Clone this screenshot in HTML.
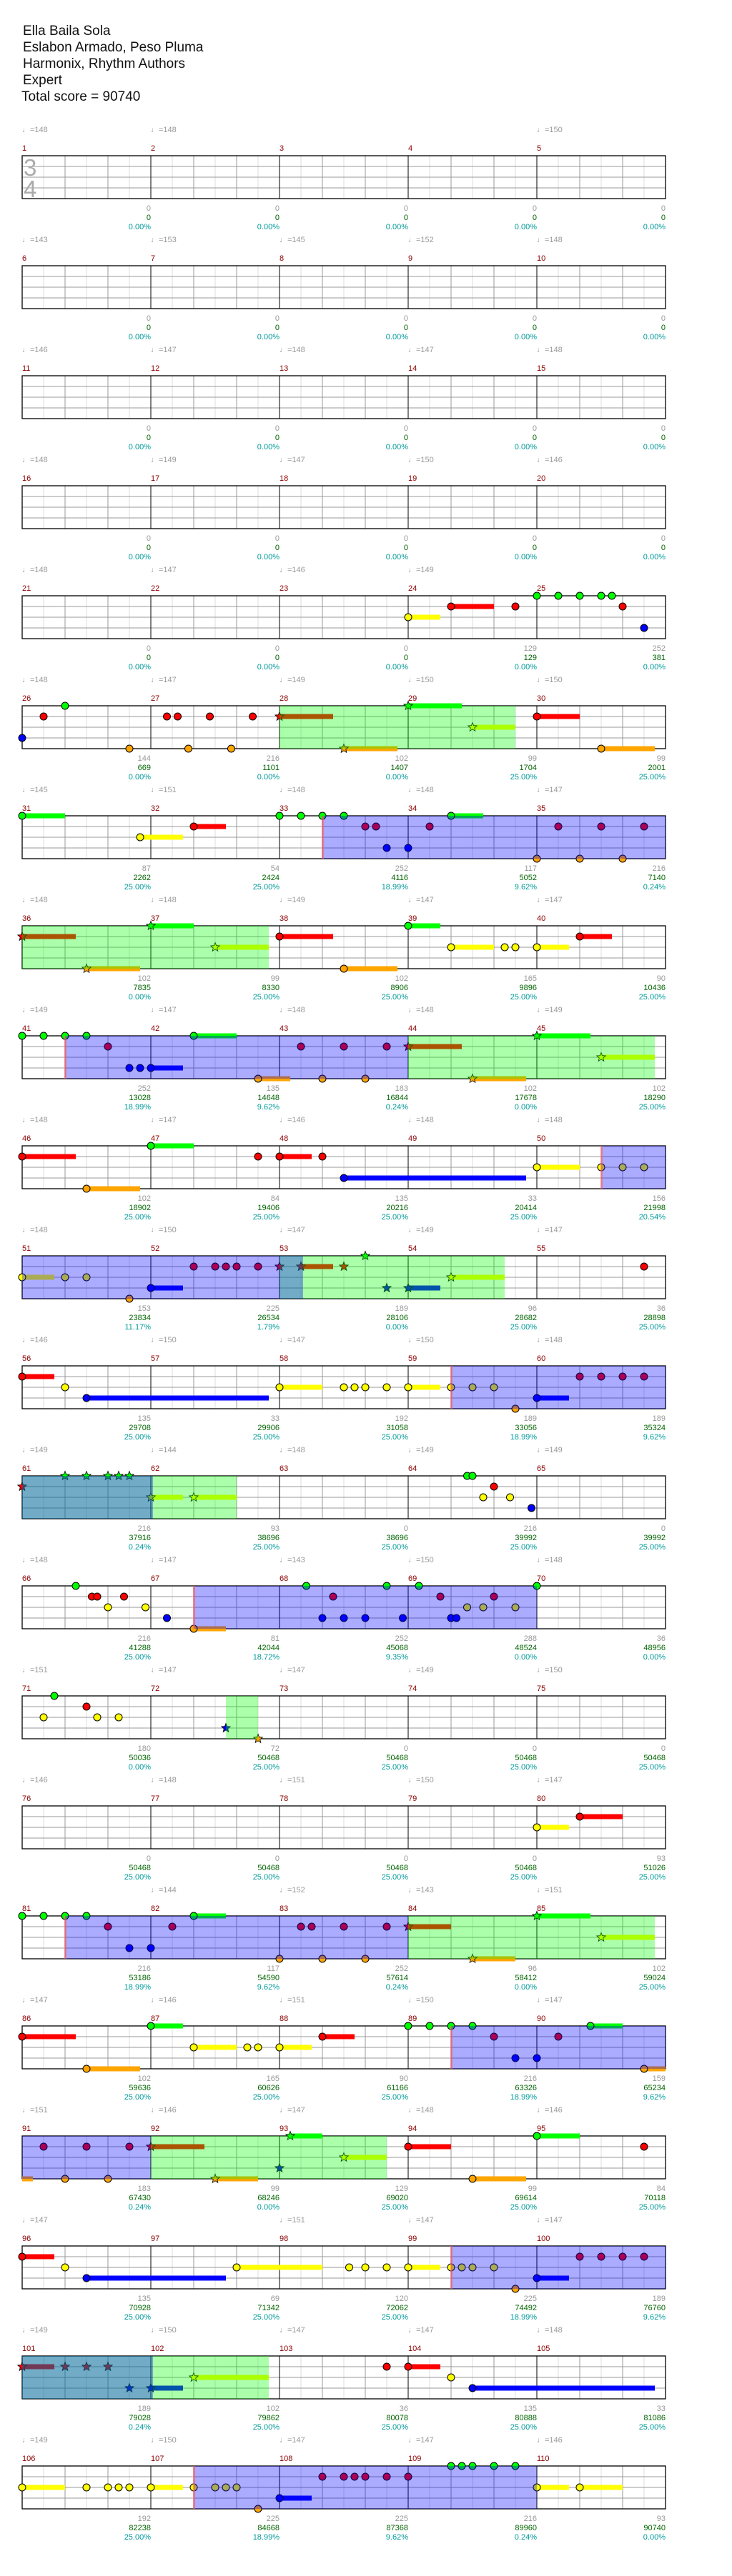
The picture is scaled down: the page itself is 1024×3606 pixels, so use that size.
<!DOCTYPE html>
<html><head><meta charset="utf-8"><style>
body{margin:0;background:#fff}
svg{display:block}
.h{font-family:"Liberation Sans","DejaVu Sans",sans-serif;font-size:19px;fill:#111}
text{font-family:"Liberation Sans","DejaVu Sans",sans-serif;font-size:11px}
.tp{fill:#999}
.n{fill:#8b0000}
.a,.b,.c{text-anchor:end}
.a{fill:#999}.b{fill:#006400}.c{fill:#009999}
.ts{font-size:33px;fill:#aaa}
</style></head><body>
<svg id="s" xmlns="http://www.w3.org/2000/svg" width="1024" height="3606" viewBox="0 0 1024 3606">
<rect width="1024" height="3606" fill="#fff"/>
<g id="grid"></g>
<g id="notes"></g>
<g id="regs"></g>
<text class="h" x="32" y="49">Ella Baila Sola</text>
<text class="h" x="32" y="72">Eslabon Armado, Peso Pluma</text>
<text class="h" x="32" y="95">Harmonix, Rhythm Authors</text>
<text class="h" x="32" y="118">Expert</text>
<text class="h" x="30" y="141">Total score = 90740</text>
<text class="ts" x="33" y="246">3</text>
<text class="ts" x="33" y="276">4</text>
<g transform="translate(31,218)"><text class="tp" y="-33">♩=148</text><text class="n" y="-7">1</text><text class="a" x="180" y="77">0</text><text class="b" x="180" y="90">0</text><text class="c" x="180" y="103">0.00%</text></g>
<g transform="translate(211,218)"><text class="tp" y="-33">♩=148</text><text class="n" y="-7">2</text><text class="a" x="180" y="77">0</text><text class="b" x="180" y="90">0</text><text class="c" x="180" y="103">0.00%</text></g>
<g transform="translate(391,218)"><text class="n" y="-7">3</text><text class="a" x="180" y="77">0</text><text class="b" x="180" y="90">0</text><text class="c" x="180" y="103">0.00%</text></g>
<g transform="translate(571,218)"><text class="n" y="-7">4</text><text class="a" x="180" y="77">0</text><text class="b" x="180" y="90">0</text><text class="c" x="180" y="103">0.00%</text></g>
<g transform="translate(751,218)"><text class="tp" y="-33">♩=150</text><text class="n" y="-7">5</text><text class="a" x="180" y="77">0</text><text class="b" x="180" y="90">0</text><text class="c" x="180" y="103">0.00%</text></g>
<g transform="translate(31,372)"><text class="tp" y="-33">♩=143</text><text class="n" y="-7">6</text><text class="a" x="180" y="77">0</text><text class="b" x="180" y="90">0</text><text class="c" x="180" y="103">0.00%</text></g>
<g transform="translate(211,372)"><text class="tp" y="-33">♩=153</text><text class="n" y="-7">7</text><text class="a" x="180" y="77">0</text><text class="b" x="180" y="90">0</text><text class="c" x="180" y="103">0.00%</text></g>
<g transform="translate(391,372)"><text class="tp" y="-33">♩=145</text><text class="n" y="-7">8</text><text class="a" x="180" y="77">0</text><text class="b" x="180" y="90">0</text><text class="c" x="180" y="103">0.00%</text></g>
<g transform="translate(571,372)"><text class="tp" y="-33">♩=152</text><text class="n" y="-7">9</text><text class="a" x="180" y="77">0</text><text class="b" x="180" y="90">0</text><text class="c" x="180" y="103">0.00%</text></g>
<g transform="translate(751,372)"><text class="tp" y="-33">♩=148</text><text class="n" y="-7">10</text><text class="a" x="180" y="77">0</text><text class="b" x="180" y="90">0</text><text class="c" x="180" y="103">0.00%</text></g>
<g transform="translate(31,526)"><text class="tp" y="-33">♩=146</text><text class="n" y="-7">11</text><text class="a" x="180" y="77">0</text><text class="b" x="180" y="90">0</text><text class="c" x="180" y="103">0.00%</text></g>
<g transform="translate(211,526)"><text class="tp" y="-33">♩=147</text><text class="n" y="-7">12</text><text class="a" x="180" y="77">0</text><text class="b" x="180" y="90">0</text><text class="c" x="180" y="103">0.00%</text></g>
<g transform="translate(391,526)"><text class="tp" y="-33">♩=148</text><text class="n" y="-7">13</text><text class="a" x="180" y="77">0</text><text class="b" x="180" y="90">0</text><text class="c" x="180" y="103">0.00%</text></g>
<g transform="translate(571,526)"><text class="tp" y="-33">♩=147</text><text class="n" y="-7">14</text><text class="a" x="180" y="77">0</text><text class="b" x="180" y="90">0</text><text class="c" x="180" y="103">0.00%</text></g>
<g transform="translate(751,526)"><text class="tp" y="-33">♩=148</text><text class="n" y="-7">15</text><text class="a" x="180" y="77">0</text><text class="b" x="180" y="90">0</text><text class="c" x="180" y="103">0.00%</text></g>
<g transform="translate(31,680)"><text class="tp" y="-33">♩=148</text><text class="n" y="-7">16</text><text class="a" x="180" y="77">0</text><text class="b" x="180" y="90">0</text><text class="c" x="180" y="103">0.00%</text></g>
<g transform="translate(211,680)"><text class="tp" y="-33">♩=149</text><text class="n" y="-7">17</text><text class="a" x="180" y="77">0</text><text class="b" x="180" y="90">0</text><text class="c" x="180" y="103">0.00%</text></g>
<g transform="translate(391,680)"><text class="tp" y="-33">♩=147</text><text class="n" y="-7">18</text><text class="a" x="180" y="77">0</text><text class="b" x="180" y="90">0</text><text class="c" x="180" y="103">0.00%</text></g>
<g transform="translate(571,680)"><text class="tp" y="-33">♩=150</text><text class="n" y="-7">19</text><text class="a" x="180" y="77">0</text><text class="b" x="180" y="90">0</text><text class="c" x="180" y="103">0.00%</text></g>
<g transform="translate(751,680)"><text class="tp" y="-33">♩=146</text><text class="n" y="-7">20</text><text class="a" x="180" y="77">0</text><text class="b" x="180" y="90">0</text><text class="c" x="180" y="103">0.00%</text></g>
<g transform="translate(31,834)"><text class="tp" y="-33">♩=148</text><text class="n" y="-7">21</text><text class="a" x="180" y="77">0</text><text class="b" x="180" y="90">0</text><text class="c" x="180" y="103">0.00%</text></g>
<g transform="translate(211,834)"><text class="tp" y="-33">♩=147</text><text class="n" y="-7">22</text><text class="a" x="180" y="77">0</text><text class="b" x="180" y="90">0</text><text class="c" x="180" y="103">0.00%</text></g>
<g transform="translate(391,834)"><text class="tp" y="-33">♩=146</text><text class="n" y="-7">23</text><text class="a" x="180" y="77">0</text><text class="b" x="180" y="90">0</text><text class="c" x="180" y="103">0.00%</text></g>
<g transform="translate(571,834)"><text class="tp" y="-33">♩=149</text><text class="n" y="-7">24</text><text class="a" x="180" y="77">129</text><text class="b" x="180" y="90">129</text><text class="c" x="180" y="103">0.00%</text></g>
<g transform="translate(751,834)"><text class="n" y="-7">25</text><text class="a" x="180" y="77">252</text><text class="b" x="180" y="90">381</text><text class="c" x="180" y="103">0.00%</text></g>
<g transform="translate(31,988)"><text class="tp" y="-33">♩=148</text><text class="n" y="-7">26</text><text class="a" x="180" y="77">144</text><text class="b" x="180" y="90">669</text><text class="c" x="180" y="103">0.00%</text></g>
<g transform="translate(211,988)"><text class="tp" y="-33">♩=147</text><text class="n" y="-7">27</text><text class="a" x="180" y="77">216</text><text class="b" x="180" y="90">1101</text><text class="c" x="180" y="103">0.00%</text></g>
<g transform="translate(391,988)"><text class="tp" y="-33">♩=149</text><text class="n" y="-7">28</text><text class="a" x="180" y="77">102</text><text class="b" x="180" y="90">1407</text><text class="c" x="180" y="103">0.00%</text></g>
<g transform="translate(571,988)"><text class="tp" y="-33">♩=150</text><text class="n" y="-7">29</text><text class="a" x="180" y="77">99</text><text class="b" x="180" y="90">1704</text><text class="c" x="180" y="103">25.00%</text></g>
<g transform="translate(751,988)"><text class="tp" y="-33">♩=150</text><text class="n" y="-7">30</text><text class="a" x="180" y="77">99</text><text class="b" x="180" y="90">2001</text><text class="c" x="180" y="103">25.00%</text></g>
<g transform="translate(31,1142)"><text class="tp" y="-33">♩=145</text><text class="n" y="-7">31</text><text class="a" x="180" y="77">87</text><text class="b" x="180" y="90">2262</text><text class="c" x="180" y="103">25.00%</text></g>
<g transform="translate(211,1142)"><text class="tp" y="-33">♩=151</text><text class="n" y="-7">32</text><text class="a" x="180" y="77">54</text><text class="b" x="180" y="90">2424</text><text class="c" x="180" y="103">25.00%</text></g>
<g transform="translate(391,1142)"><text class="tp" y="-33">♩=148</text><text class="n" y="-7">33</text><text class="a" x="180" y="77">252</text><text class="b" x="180" y="90">4116</text><text class="c" x="180" y="103">18.99%</text></g>
<g transform="translate(571,1142)"><text class="tp" y="-33">♩=148</text><text class="n" y="-7">34</text><text class="a" x="180" y="77">117</text><text class="b" x="180" y="90">5052</text><text class="c" x="180" y="103">9.62%</text></g>
<g transform="translate(751,1142)"><text class="tp" y="-33">♩=147</text><text class="n" y="-7">35</text><text class="a" x="180" y="77">216</text><text class="b" x="180" y="90">7140</text><text class="c" x="180" y="103">0.24%</text></g>
<g transform="translate(31,1296)"><text class="tp" y="-33">♩=148</text><text class="n" y="-7">36</text><text class="a" x="180" y="77">102</text><text class="b" x="180" y="90">7835</text><text class="c" x="180" y="103">0.00%</text></g>
<g transform="translate(211,1296)"><text class="tp" y="-33">♩=148</text><text class="n" y="-7">37</text><text class="a" x="180" y="77">99</text><text class="b" x="180" y="90">8330</text><text class="c" x="180" y="103">25.00%</text></g>
<g transform="translate(391,1296)"><text class="tp" y="-33">♩=149</text><text class="n" y="-7">38</text><text class="a" x="180" y="77">102</text><text class="b" x="180" y="90">8906</text><text class="c" x="180" y="103">25.00%</text></g>
<g transform="translate(571,1296)"><text class="tp" y="-33">♩=147</text><text class="n" y="-7">39</text><text class="a" x="180" y="77">165</text><text class="b" x="180" y="90">9896</text><text class="c" x="180" y="103">25.00%</text></g>
<g transform="translate(751,1296)"><text class="tp" y="-33">♩=147</text><text class="n" y="-7">40</text><text class="a" x="180" y="77">90</text><text class="b" x="180" y="90">10436</text><text class="c" x="180" y="103">25.00%</text></g>
<g transform="translate(31,1450)"><text class="tp" y="-33">♩=149</text><text class="n" y="-7">41</text><text class="a" x="180" y="77">252</text><text class="b" x="180" y="90">13028</text><text class="c" x="180" y="103">18.99%</text></g>
<g transform="translate(211,1450)"><text class="tp" y="-33">♩=147</text><text class="n" y="-7">42</text><text class="a" x="180" y="77">135</text><text class="b" x="180" y="90">14648</text><text class="c" x="180" y="103">9.62%</text></g>
<g transform="translate(391,1450)"><text class="tp" y="-33">♩=148</text><text class="n" y="-7">43</text><text class="a" x="180" y="77">183</text><text class="b" x="180" y="90">16844</text><text class="c" x="180" y="103">0.24%</text></g>
<g transform="translate(571,1450)"><text class="tp" y="-33">♩=148</text><text class="n" y="-7">44</text><text class="a" x="180" y="77">102</text><text class="b" x="180" y="90">17678</text><text class="c" x="180" y="103">0.00%</text></g>
<g transform="translate(751,1450)"><text class="tp" y="-33">♩=149</text><text class="n" y="-7">45</text><text class="a" x="180" y="77">102</text><text class="b" x="180" y="90">18290</text><text class="c" x="180" y="103">25.00%</text></g>
<g transform="translate(31,1604)"><text class="tp" y="-33">♩=148</text><text class="n" y="-7">46</text><text class="a" x="180" y="77">102</text><text class="b" x="180" y="90">18902</text><text class="c" x="180" y="103">25.00%</text></g>
<g transform="translate(211,1604)"><text class="tp" y="-33">♩=147</text><text class="n" y="-7">47</text><text class="a" x="180" y="77">84</text><text class="b" x="180" y="90">19406</text><text class="c" x="180" y="103">25.00%</text></g>
<g transform="translate(391,1604)"><text class="tp" y="-33">♩=146</text><text class="n" y="-7">48</text><text class="a" x="180" y="77">135</text><text class="b" x="180" y="90">20216</text><text class="c" x="180" y="103">25.00%</text></g>
<g transform="translate(571,1604)"><text class="tp" y="-33">♩=148</text><text class="n" y="-7">49</text><text class="a" x="180" y="77">33</text><text class="b" x="180" y="90">20414</text><text class="c" x="180" y="103">25.00%</text></g>
<g transform="translate(751,1604)"><text class="tp" y="-33">♩=148</text><text class="n" y="-7">50</text><text class="a" x="180" y="77">156</text><text class="b" x="180" y="90">21998</text><text class="c" x="180" y="103">20.54%</text></g>
<g transform="translate(31,1758)"><text class="tp" y="-33">♩=148</text><text class="n" y="-7">51</text><text class="a" x="180" y="77">153</text><text class="b" x="180" y="90">23834</text><text class="c" x="180" y="103">11.17%</text></g>
<g transform="translate(211,1758)"><text class="tp" y="-33">♩=150</text><text class="n" y="-7">52</text><text class="a" x="180" y="77">225</text><text class="b" x="180" y="90">26534</text><text class="c" x="180" y="103">1.79%</text></g>
<g transform="translate(391,1758)"><text class="tp" y="-33">♩=147</text><text class="n" y="-7">53</text><text class="a" x="180" y="77">189</text><text class="b" x="180" y="90">28106</text><text class="c" x="180" y="103">0.00%</text></g>
<g transform="translate(571,1758)"><text class="tp" y="-33">♩=149</text><text class="n" y="-7">54</text><text class="a" x="180" y="77">96</text><text class="b" x="180" y="90">28682</text><text class="c" x="180" y="103">25.00%</text></g>
<g transform="translate(751,1758)"><text class="tp" y="-33">♩=147</text><text class="n" y="-7">55</text><text class="a" x="180" y="77">36</text><text class="b" x="180" y="90">28898</text><text class="c" x="180" y="103">25.00%</text></g>
<g transform="translate(31,1912)"><text class="tp" y="-33">♩=146</text><text class="n" y="-7">56</text><text class="a" x="180" y="77">135</text><text class="b" x="180" y="90">29708</text><text class="c" x="180" y="103">25.00%</text></g>
<g transform="translate(211,1912)"><text class="tp" y="-33">♩=150</text><text class="n" y="-7">57</text><text class="a" x="180" y="77">33</text><text class="b" x="180" y="90">29906</text><text class="c" x="180" y="103">25.00%</text></g>
<g transform="translate(391,1912)"><text class="tp" y="-33">♩=147</text><text class="n" y="-7">58</text><text class="a" x="180" y="77">192</text><text class="b" x="180" y="90">31058</text><text class="c" x="180" y="103">25.00%</text></g>
<g transform="translate(571,1912)"><text class="tp" y="-33">♩=150</text><text class="n" y="-7">59</text><text class="a" x="180" y="77">189</text><text class="b" x="180" y="90">33056</text><text class="c" x="180" y="103">18.99%</text></g>
<g transform="translate(751,1912)"><text class="tp" y="-33">♩=148</text><text class="n" y="-7">60</text><text class="a" x="180" y="77">189</text><text class="b" x="180" y="90">35324</text><text class="c" x="180" y="103">9.62%</text></g>
<g transform="translate(31,2066)"><text class="tp" y="-33">♩=149</text><text class="n" y="-7">61</text><text class="a" x="180" y="77">216</text><text class="b" x="180" y="90">37916</text><text class="c" x="180" y="103">0.24%</text></g>
<g transform="translate(211,2066)"><text class="tp" y="-33">♩=144</text><text class="n" y="-7">62</text><text class="a" x="180" y="77">93</text><text class="b" x="180" y="90">38696</text><text class="c" x="180" y="103">25.00%</text></g>
<g transform="translate(391,2066)"><text class="tp" y="-33">♩=148</text><text class="n" y="-7">63</text><text class="a" x="180" y="77">0</text><text class="b" x="180" y="90">38696</text><text class="c" x="180" y="103">25.00%</text></g>
<g transform="translate(571,2066)"><text class="tp" y="-33">♩=149</text><text class="n" y="-7">64</text><text class="a" x="180" y="77">216</text><text class="b" x="180" y="90">39992</text><text class="c" x="180" y="103">25.00%</text></g>
<g transform="translate(751,2066)"><text class="tp" y="-33">♩=149</text><text class="n" y="-7">65</text><text class="a" x="180" y="77">0</text><text class="b" x="180" y="90">39992</text><text class="c" x="180" y="103">25.00%</text></g>
<g transform="translate(31,2220)"><text class="tp" y="-33">♩=148</text><text class="n" y="-7">66</text><text class="a" x="180" y="77">216</text><text class="b" x="180" y="90">41288</text><text class="c" x="180" y="103">25.00%</text></g>
<g transform="translate(211,2220)"><text class="tp" y="-33">♩=147</text><text class="n" y="-7">67</text><text class="a" x="180" y="77">81</text><text class="b" x="180" y="90">42044</text><text class="c" x="180" y="103">18.72%</text></g>
<g transform="translate(391,2220)"><text class="tp" y="-33">♩=143</text><text class="n" y="-7">68</text><text class="a" x="180" y="77">252</text><text class="b" x="180" y="90">45068</text><text class="c" x="180" y="103">9.35%</text></g>
<g transform="translate(571,2220)"><text class="tp" y="-33">♩=150</text><text class="n" y="-7">69</text><text class="a" x="180" y="77">288</text><text class="b" x="180" y="90">48524</text><text class="c" x="180" y="103">0.00%</text></g>
<g transform="translate(751,2220)"><text class="tp" y="-33">♩=148</text><text class="n" y="-7">70</text><text class="a" x="180" y="77">36</text><text class="b" x="180" y="90">48956</text><text class="c" x="180" y="103">0.00%</text></g>
<g transform="translate(31,2374)"><text class="tp" y="-33">♩=151</text><text class="n" y="-7">71</text><text class="a" x="180" y="77">180</text><text class="b" x="180" y="90">50036</text><text class="c" x="180" y="103">0.00%</text></g>
<g transform="translate(211,2374)"><text class="tp" y="-33">♩=147</text><text class="n" y="-7">72</text><text class="a" x="180" y="77">72</text><text class="b" x="180" y="90">50468</text><text class="c" x="180" y="103">25.00%</text></g>
<g transform="translate(391,2374)"><text class="tp" y="-33">♩=147</text><text class="n" y="-7">73</text><text class="a" x="180" y="77">0</text><text class="b" x="180" y="90">50468</text><text class="c" x="180" y="103">25.00%</text></g>
<g transform="translate(571,2374)"><text class="tp" y="-33">♩=149</text><text class="n" y="-7">74</text><text class="a" x="180" y="77">0</text><text class="b" x="180" y="90">50468</text><text class="c" x="180" y="103">25.00%</text></g>
<g transform="translate(751,2374)"><text class="tp" y="-33">♩=150</text><text class="n" y="-7">75</text><text class="a" x="180" y="77">0</text><text class="b" x="180" y="90">50468</text><text class="c" x="180" y="103">25.00%</text></g>
<g transform="translate(31,2528)"><text class="tp" y="-33">♩=146</text><text class="n" y="-7">76</text><text class="a" x="180" y="77">0</text><text class="b" x="180" y="90">50468</text><text class="c" x="180" y="103">25.00%</text></g>
<g transform="translate(211,2528)"><text class="tp" y="-33">♩=148</text><text class="n" y="-7">77</text><text class="a" x="180" y="77">0</text><text class="b" x="180" y="90">50468</text><text class="c" x="180" y="103">25.00%</text></g>
<g transform="translate(391,2528)"><text class="tp" y="-33">♩=151</text><text class="n" y="-7">78</text><text class="a" x="180" y="77">0</text><text class="b" x="180" y="90">50468</text><text class="c" x="180" y="103">25.00%</text></g>
<g transform="translate(571,2528)"><text class="tp" y="-33">♩=150</text><text class="n" y="-7">79</text><text class="a" x="180" y="77">0</text><text class="b" x="180" y="90">50468</text><text class="c" x="180" y="103">25.00%</text></g>
<g transform="translate(751,2528)"><text class="tp" y="-33">♩=147</text><text class="n" y="-7">80</text><text class="a" x="180" y="77">93</text><text class="b" x="180" y="90">51026</text><text class="c" x="180" y="103">25.00%</text></g>
<g transform="translate(31,2682)"><text class="n" y="-7">81</text><text class="a" x="180" y="77">216</text><text class="b" x="180" y="90">53186</text><text class="c" x="180" y="103">18.99%</text></g>
<g transform="translate(211,2682)"><text class="tp" y="-33">♩=144</text><text class="n" y="-7">82</text><text class="a" x="180" y="77">117</text><text class="b" x="180" y="90">54590</text><text class="c" x="180" y="103">9.62%</text></g>
<g transform="translate(391,2682)"><text class="tp" y="-33">♩=152</text><text class="n" y="-7">83</text><text class="a" x="180" y="77">252</text><text class="b" x="180" y="90">57614</text><text class="c" x="180" y="103">0.24%</text></g>
<g transform="translate(571,2682)"><text class="tp" y="-33">♩=143</text><text class="n" y="-7">84</text><text class="a" x="180" y="77">96</text><text class="b" x="180" y="90">58412</text><text class="c" x="180" y="103">0.00%</text></g>
<g transform="translate(751,2682)"><text class="tp" y="-33">♩=151</text><text class="n" y="-7">85</text><text class="a" x="180" y="77">102</text><text class="b" x="180" y="90">59024</text><text class="c" x="180" y="103">25.00%</text></g>
<g transform="translate(31,2836)"><text class="tp" y="-33">♩=147</text><text class="n" y="-7">86</text><text class="a" x="180" y="77">102</text><text class="b" x="180" y="90">59636</text><text class="c" x="180" y="103">25.00%</text></g>
<g transform="translate(211,2836)"><text class="tp" y="-33">♩=146</text><text class="n" y="-7">87</text><text class="a" x="180" y="77">165</text><text class="b" x="180" y="90">60626</text><text class="c" x="180" y="103">25.00%</text></g>
<g transform="translate(391,2836)"><text class="tp" y="-33">♩=151</text><text class="n" y="-7">88</text><text class="a" x="180" y="77">90</text><text class="b" x="180" y="90">61166</text><text class="c" x="180" y="103">25.00%</text></g>
<g transform="translate(571,2836)"><text class="tp" y="-33">♩=150</text><text class="n" y="-7">89</text><text class="a" x="180" y="77">216</text><text class="b" x="180" y="90">63326</text><text class="c" x="180" y="103">18.99%</text></g>
<g transform="translate(751,2836)"><text class="tp" y="-33">♩=147</text><text class="n" y="-7">90</text><text class="a" x="180" y="77">159</text><text class="b" x="180" y="90">65234</text><text class="c" x="180" y="103">9.62%</text></g>
<g transform="translate(31,2990)"><text class="tp" y="-33">♩=151</text><text class="n" y="-7">91</text><text class="a" x="180" y="77">183</text><text class="b" x="180" y="90">67430</text><text class="c" x="180" y="103">0.24%</text></g>
<g transform="translate(211,2990)"><text class="tp" y="-33">♩=146</text><text class="n" y="-7">92</text><text class="a" x="180" y="77">99</text><text class="b" x="180" y="90">68246</text><text class="c" x="180" y="103">0.00%</text></g>
<g transform="translate(391,2990)"><text class="tp" y="-33">♩=147</text><text class="n" y="-7">93</text><text class="a" x="180" y="77">129</text><text class="b" x="180" y="90">69020</text><text class="c" x="180" y="103">25.00%</text></g>
<g transform="translate(571,2990)"><text class="tp" y="-33">♩=148</text><text class="n" y="-7">94</text><text class="a" x="180" y="77">99</text><text class="b" x="180" y="90">69614</text><text class="c" x="180" y="103">25.00%</text></g>
<g transform="translate(751,2990)"><text class="tp" y="-33">♩=146</text><text class="n" y="-7">95</text><text class="a" x="180" y="77">84</text><text class="b" x="180" y="90">70118</text><text class="c" x="180" y="103">25.00%</text></g>
<g transform="translate(31,3144)"><text class="tp" y="-33">♩=147</text><text class="n" y="-7">96</text><text class="a" x="180" y="77">135</text><text class="b" x="180" y="90">70928</text><text class="c" x="180" y="103">25.00%</text></g>
<g transform="translate(211,3144)"><text class="n" y="-7">97</text><text class="a" x="180" y="77">69</text><text class="b" x="180" y="90">71342</text><text class="c" x="180" y="103">25.00%</text></g>
<g transform="translate(391,3144)"><text class="tp" y="-33">♩=151</text><text class="n" y="-7">98</text><text class="a" x="180" y="77">120</text><text class="b" x="180" y="90">72062</text><text class="c" x="180" y="103">25.00%</text></g>
<g transform="translate(571,3144)"><text class="tp" y="-33">♩=147</text><text class="n" y="-7">99</text><text class="a" x="180" y="77">225</text><text class="b" x="180" y="90">74492</text><text class="c" x="180" y="103">18.99%</text></g>
<g transform="translate(751,3144)"><text class="tp" y="-33">♩=147</text><text class="n" y="-7">100</text><text class="a" x="180" y="77">189</text><text class="b" x="180" y="90">76760</text><text class="c" x="180" y="103">9.62%</text></g>
<g transform="translate(31,3298)"><text class="tp" y="-33">♩=149</text><text class="n" y="-7">101</text><text class="a" x="180" y="77">189</text><text class="b" x="180" y="90">79028</text><text class="c" x="180" y="103">0.24%</text></g>
<g transform="translate(211,3298)"><text class="tp" y="-33">♩=150</text><text class="n" y="-7">102</text><text class="a" x="180" y="77">102</text><text class="b" x="180" y="90">79862</text><text class="c" x="180" y="103">25.00%</text></g>
<g transform="translate(391,3298)"><text class="tp" y="-33">♩=147</text><text class="n" y="-7">103</text><text class="a" x="180" y="77">36</text><text class="b" x="180" y="90">80078</text><text class="c" x="180" y="103">25.00%</text></g>
<g transform="translate(571,3298)"><text class="tp" y="-33">♩=147</text><text class="n" y="-7">104</text><text class="a" x="180" y="77">135</text><text class="b" x="180" y="90">80888</text><text class="c" x="180" y="103">25.00%</text></g>
<g transform="translate(751,3298)"><text class="tp" y="-33">♩=148</text><text class="n" y="-7">105</text><text class="a" x="180" y="77">33</text><text class="b" x="180" y="90">81086</text><text class="c" x="180" y="103">25.00%</text></g>
<g transform="translate(31,3452)"><text class="tp" y="-33">♩=149</text><text class="n" y="-7">106</text><text class="a" x="180" y="77">192</text><text class="b" x="180" y="90">82238</text><text class="c" x="180" y="103">25.00%</text></g>
<g transform="translate(211,3452)"><text class="tp" y="-33">♩=150</text><text class="n" y="-7">107</text><text class="a" x="180" y="77">225</text><text class="b" x="180" y="90">84668</text><text class="c" x="180" y="103">18.99%</text></g>
<g transform="translate(391,3452)"><text class="tp" y="-33">♩=147</text><text class="n" y="-7">108</text><text class="a" x="180" y="77">225</text><text class="b" x="180" y="90">87368</text><text class="c" x="180" y="103">9.62%</text></g>
<g transform="translate(571,3452)"><text class="tp" y="-33">♩=147</text><text class="n" y="-7">109</text><text class="a" x="180" y="77">216</text><text class="b" x="180" y="90">89960</text><text class="c" x="180" y="103">0.24%</text></g>
<g transform="translate(751,3452)"><text class="tp" y="-33">♩=146</text><text class="n" y="-7">110</text><text class="a" x="180" y="77">93</text><text class="b" x="180" y="90">90740</text><text class="c" x="180" y="103">0.00%</text></g>
</svg>
<script>
(function(){
var NS="http://www.w3.org/2000/svg";
function el(p,t,a){var e=document.createElementNS(NS,t);for(var k in a)e.setAttribute(k,a[k]);p.appendChild(e);return e;}
var G=document.getElementById("grid"),N=document.getElementById("notes"),R=document.getElementById("regs");
var COL=["#00ff00","#ff0000","#ffff00","#0000ff","#ffa500"];
var rows=[
{N:[]},{N:[]},{N:[]},{N:[]},
{N:[[18,2,19.5],[20,1,22],[23,1],[24,0],[25,0],[26,0],[27,0],[27.5,0],[28,1],[29,3]]},
{R:[[12,23,"g"]],N:[[0,3],[1,1],[2,0],[5,4],[6.75,1],[7.25,1],[7.75,4],[8.75,1],[9.75,4],[10.75,1],[12,1,14.5,1],[15,4,17.5,1],[18,0,20.5,1],[21,2,23,1],[24,1,26],[27,4,29.5]]},
{R:[[14,30,"b"]],N:[[0,0,2],[5.5,2,7.5],[8,1,9.5],[12,0],[13,0],[14,0],[15,0],[16,1],[16.5,1],[19,1],[17,3],[18,3],[20,0,21.5],[25,1],[27,1],[29,1],[24,4],[26,4],[28,4]]},
{R:[[0,11.5,"g"]],N:[[0,1,2.5,1],[3,4,5.5,1],[6,0,8,1],[9,2,11.5,1],[12,1,14.5],[15,4,17.5],[18,0,19.5],[20,2,22],[22.5,2],[23,2],[24,2,25.5],[26,1,27.5]]},
{R:[[2,18,"b"],[18,29.5,"g"]],N:[[0,0],[1,0],[2,0],[3,0],[4,1],[5,3],[5.5,3],[6,3,7.5],[8,0,10],[11,4,12.5],[13,1],[15,1],[17,1],[14,4],[16,4],[18,1,20.5,1],[21,4,23.5,1],[24,0,26.5,1],[27,2,29.5,1]]},
{R:[[27,30,"b"]],N:[[0,1,2.5],[3,4,5.5],[6,0,8],[11,1],[12,1,13.5],[14,1],[15,3,23.5],[24,2,26],[27,2],[28,2],[29,2]]},
{R:[[0,13.1,"b"],[12,22.5,"g"]],N:[[0,2,1.5],[2,2],[3,2],[5,4],[6,3,7.5],[8,1],[9,1],[9.5,1],[10,1],[11,1],[12,1,0,1],[13,1,14.5,1],[15,1,0,1],[16,0,0,1],[17,3,0,1],[18,3,19.5,1],[20,2,22.5,1],[29,1]]},
{R:[[20,30,"b"]],N:[[0,1,1.5],[2,2],[3,3,11.5],[12,2,14],[15,2],[15.5,2],[16,2],[17,2],[18,2,19.5],[20,2],[21,2],[22,2],[23,4],[24,3,25.5],[26,1],[27,1],[28,1],[29,1]]},
{R:[[0,6.1,"b"],[0,10,"g"]],N:[[0,1,0,1],[2,0,0,1],[3,0,0,1],[4,0,0,1],[4.5,0,0,1],[5,0,0,1],[6,2,7.5,1],[8,2,10,1],[20.75,0],[21,0],[22,1],[21.5,2],[22.75,2],[23.75,3]]},
{R:[[8,24,"b"]],N:[[2.5,0],[3.25,1],[3.5,1],[4.75,1],[4,2],[5.75,2],[6.75,3],[8,4,9.5],[13.25,0],[17,0],[18.5,0],[14.5,1],[19.5,1],[22,1],[14,3],[15,3],[16,3],[17.75,3],[20,3],[20.25,3],[20.75,2],[21.5,2],[23,2],[24,0]]},
{R:[[9.5,11,"g"]],N:[[1.5,0],[3,1],[1,2],[3.5,2],[4.5,2],[9.5,3,0,1],[11,4,0,1]]},
{N:[[24,2,25.5],[26,1,28]]},
{R:[[2,18,"b"],[18,29.5,"g"]],N:[[0,0],[1,0],[2,0],[3,0],[4,1],[5,3],[6,3],[7,1],[8,0,9.5],[12,4],[14,4],[16,4],[13,1],[13.5,1],[15,1],[17,1],[18,1,20,1],[21,4,23,1],[24,0,26.5,1],[27,2,29.5,1]]},
{R:[[20,30,"b"]],N:[[0,1,2.5],[3,4,5.5],[6,0,7.5],[8,2,10],[10.5,2],[11,2],[12,2,13.5],[14,1,15.5],[18,0],[19,0],[20,0],[21,0],[22,1],[25,1],[23,3],[24,3],[26.5,0,28],[29,4,30]]},
{R:[[0,6,"b"],[6,17,"g"]],N:[[0,4,0.5,2],[1,1],[3,1],[5,1],[2,4],[4,4],[6,1,8.5,1],[9,4,11,1],[12.5,0,14,1],[12,3,0,1],[15,2,17,1],[18,1,20],[21,4,23.5],[24,0,26],[29,1]]},
{R:[[20,30,"b"]],N:[[0,1,1.5],[2,2],[3,3,9.5],[10,2,14],[15.25,2],[16,2],[17,2],[18,2,19.5],[20,2],[20.5,2],[21,2],[22,2],[23,4],[24,3,25.5],[26,1],[27,1],[28,1],[29,1]]},
{R:[[0,6.1,"b"],[0,11.5,"g"]],N:[[0,1,1.5,1],[2,1,0,1],[3,1,0,1],[4,1,0,1],[5,3,0,1],[6,3,7.5,1],[8,2,11.5,1],[17,1],[18,1,19.5],[20,2],[21,3,29.5]]},
{R:[[8,24,"b"]],N:[[0,2,2],[3,2],[4,2],[4.5,2],[5,2],[6,2,7.5],[8,2],[9,2],[9.5,2],[10,2],[11,4],[12,3,13.5],[14,1],[15,1],[15.5,1],[16,1],[17,1],[18,1],[20,0],[20.5,0],[21,0],[22,0],[23,0],[24,2,25.5],[26,2,28]]}
];
function X(s){return 31+s*30;}
function star(p,cx,cy,f){var pts=[];for(var i=0;i<10;i++){var r=i%2?2.8:6.5,a=-Math.PI/2+i*Math.PI/5;pts.push((cx+r*Math.cos(a)).toFixed(1)+","+(cy+r*Math.sin(a)).toFixed(1));}el(p,"polygon",{points:pts.join(" "),fill:f,stroke:"#000","stroke-width":"0.8"});}
for(var r=0;r<22;r++){
 var T=218+r*154;
 for(var k=1;k<30;k++){ if(k%2==1) el(G,"line",{x1:X(k),y1:T,x2:X(k),y2:T+60,stroke:"#dcdcdc","stroke-width":1}); }
 for(var j=1;j<4;j++) el(G,"line",{x1:31,y1:T+15*j,x2:931,y2:T+15*j,stroke:"#999","stroke-width":1});
 for(var k=2;k<30;k+=2){ if(k%6) el(G,"line",{x1:X(k),y1:T,x2:X(k),y2:T+60,stroke:"#999","stroke-width":1}); }
 for(var k=6;k<30;k+=6) el(G,"line",{x1:X(k),y1:T,x2:X(k),y2:T+60,stroke:"#000","stroke-width":1});
 el(G,"rect",{x:31,y:T,width:900,height:60,fill:"none",stroke:"#000","stroke-width":1.3});
 var row=rows[r];
 row.N.forEach(function(n){var ly=T+15*n[1];if(n[2])el(N,"rect",{x:X(n[0]),y:ly-3.5,width:(n[2]-n[0])*30,height:7,fill:COL[n[1]]});});
 row.N.forEach(function(n){var ly=T+15*n[1];if(n[3]==2)return;if(n[3]==1)star(N,X(n[0]),ly,COL[n[1]]);else el(N,"circle",{cx:X(n[0]),cy:ly,r:5,fill:COL[n[1]],stroke:"#000","stroke-width":1});});
 var regs=(row.R||[]).slice().sort(function(a,b){return (a[2]=="g"?0:1)-(b[2]=="g"?0:1);});
 regs.forEach(function(g){
   el(R,"rect",{x:X(g[0]),y:T,width:(g[1]-g[0])*30,height:60,fill:g[2]=="g"?"#00ff00":"#0000ff","fill-opacity":0.33});
   if(g[2]=="b"&&g[0]>0) el(R,"rect",{x:X(g[0])-1,y:T,width:3,height:60,fill:"#ff6060","fill-opacity":0.6});
 });
}
})();
</script>
</body></html>
